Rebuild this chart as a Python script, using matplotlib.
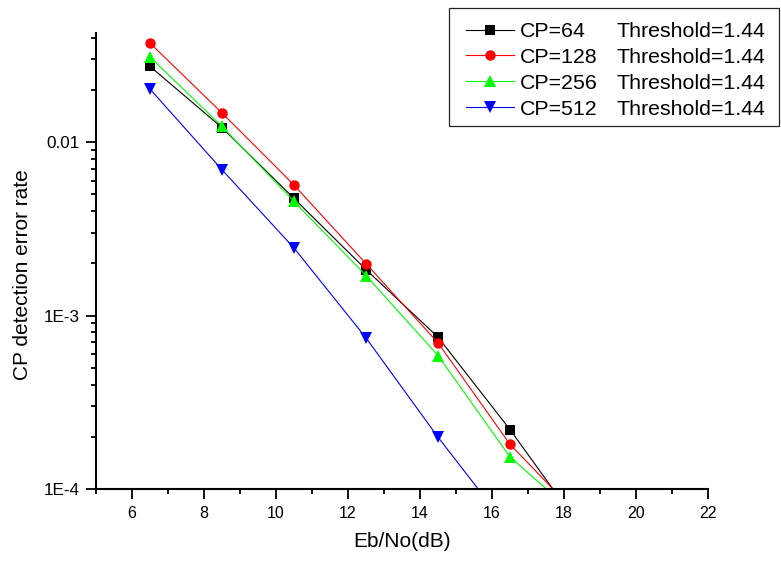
import matplotlib
matplotlib.use("Agg")
import matplotlib.pyplot as plt
from matplotlib.ticker import FixedLocator, FixedFormatter, LogLocator, MultipleLocator, NullFormatter
from matplotlib.patches import Rectangle

plt.rcParams['font.family'] = ['Liberation Sans', 'DejaVu Sans']

# data (last points fall below the axis and get clipped)
ebno = [6.5, 8.5, 10.5, 12.5, 14.5, 16.5, 18.5]
cp64 = [0.0273, 0.0121, 0.00473, 0.00184, 7.5e-4, 2.2e-4, 5.85e-5]
cp128 = [0.0372, 0.0147, 0.00565, 0.00199, 6.96e-4, 1.81e-4, 6.7e-5]
cp256 = [0.0309, 0.0123, 0.00455, 0.0017, 5.88e-4, 1.53e-4, 6.6e-5]
ebno_512 = [6.5, 8.5, 10.5, 12.5, 14.5, 16.5]
cp512 = [0.0202, 0.00692, 0.00245, 7.43e-4, 1.99e-4, 5.8e-5]

labels = ["CP=64", "CP=128", "CP=256", "CP=512"]
threshold_text = "Threshold=1.44"
ytick_vals = [1e-4, 1e-3, 1e-2]
ytick_labels = ["1E-4", "1E-3", "0.01"]

fig = plt.figure(figsize=(7.81, 5.61), dpi=100)
ax = fig.add_axes([96/781, 1-489/561, 612/781, 456/561])

series = [
    (ebno, cp64, 'black', 's', 7),
    (ebno, cp128, 'red', 'o', 7.5),
    (ebno, cp256, '#00ff00', '^', 8),
    (ebno_512, cp512, 'blue', 'v', 8),
]
for (x, y, c, m, ms), lab in zip(series, labels):
    ax.plot(x, y, color=c, marker=m, markersize=ms, linewidth=0.8,
            markeredgewidth=0, label=lab)

ax.set_yscale('log')
ax.set_xlim(5, 22)
ax.set_ylim(1e-4, 0.0425)

ax.spines['top'].set_visible(False)
ax.spines['right'].set_visible(False)
ax.spines['left'].set_linewidth(1.5)
ax.spines['bottom'].set_linewidth(1.5)

ax.xaxis.set_major_locator(MultipleLocator(2))
ax.xaxis.set_minor_locator(MultipleLocator(1))
ax.yaxis.set_major_locator(FixedLocator(ytick_vals))
ax.yaxis.set_major_formatter(FixedFormatter(ytick_labels))
ax.yaxis.set_minor_locator(LogLocator(base=10, subs=range(2, 10)))
ax.yaxis.set_minor_formatter(NullFormatter())

ax.tick_params(which='major', direction='out', length=7, width=1.3, pad=5)
ax.tick_params(which='minor', direction='out', length=3.5, width=1.3)
ax.tick_params(axis='x', labelsize=11.5)
ax.tick_params(axis='y', labelsize=12.3)
ax.set_xticks(range(6, 23, 2))

ax.set_xlabel("Eb/No(dB)", fontsize=15)
ax.set_ylabel("CP detection error rate", fontsize=15)
ax.xaxis.set_label_coords(0.5, -0.094)
ax.yaxis.set_label_coords(-0.105, 0.47)

leg = ax.legend(loc='upper left', bbox_to_anchor=(466/781, 1-22/561),
                bbox_transform=fig.transFigure, frameon=False, fontsize=15.4,
                borderpad=0, borderaxespad=0, handlelength=2.24,
                handletextpad=0.28, labelspacing=0.32, numpoints=1)

thr = []
for t in leg.get_texts():
    a = ax.annotate(threshold_text, xy=(0, 0), xycoords=t, xytext=(97, 0),
                    textcoords='offset pixels', ha='left', va='bottom', fontsize=15.4)
    thr.append(a)

# frame round legend + threshold column
fig.canvas.draw()
r = fig.canvas.get_renderer()
lb = leg.get_window_extent(r)
x1 = max(a.get_window_extent(r).x1 for a in thr)
x0 = lb.x0 - 17
y0 = lb.y0 - 7
y1 = lb.y1 + 14
x1 = min(x1 + 13, fig.bbox.width - 1)
inv = fig.transFigure.inverted()
(fx0, fy0), (fx1, fy1) = inv.transform([(x0, y0), (x1, y1)])
fig.add_artist(Rectangle((fx0, fy0), fx1 - fx0, fy1 - fy0, transform=fig.transFigure,
                         fill=False, edgecolor='#222222', linewidth=0.9))

fig.savefig("out.png", dpi=100)
